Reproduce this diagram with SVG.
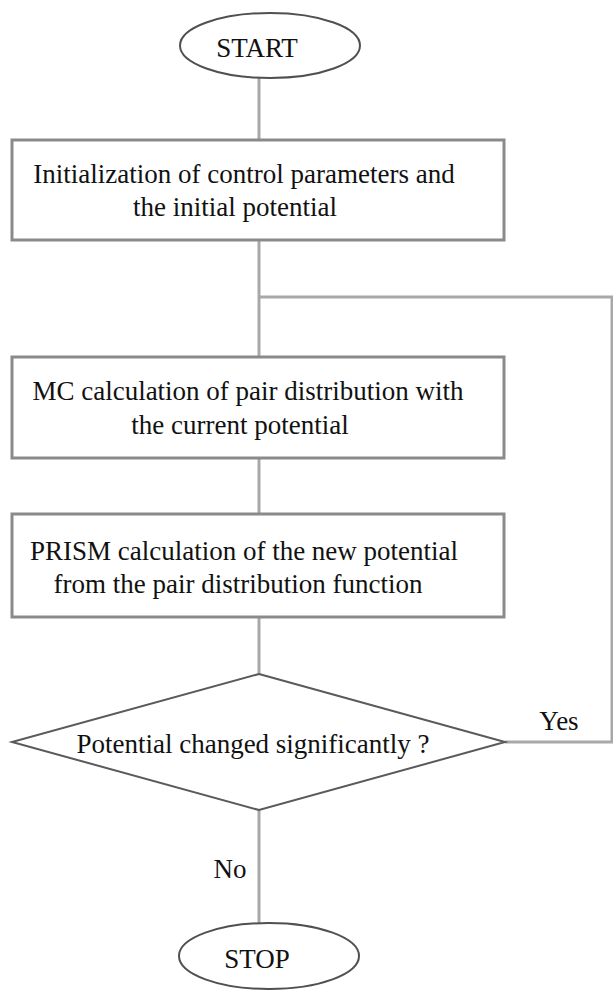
<svg xmlns="http://www.w3.org/2000/svg" width="613" height="990" viewBox="0 0 613 990">
  <style>
    .box { fill: #ffffff; stroke: #8a8a8a; stroke-width: 3; }
    .term { fill: #ffffff; stroke: #505050; stroke-width: 2; }
    .dec { fill: #ffffff; stroke: #5a5a5a; stroke-width: 2; }
    .conn { fill: none; stroke: #a8a8a8; stroke-width: 3; }
    .label { font-family: "Liberation Serif", "DejaVu Serif", serif; font-size: 27px; fill: #111111; text-anchor: middle; }
  </style>
  <rect width="613" height="990" fill="#ffffff"/>

  <g id="connectors">
    <line class="conn" x1="259" y1="78" x2="259" y2="140"/>
    <line class="conn" x1="259" y1="240" x2="259" y2="357"/>
    <polyline class="conn" points="259,297 612,297 612,742 505,742"/>
    <line class="conn" x1="259" y1="458" x2="259" y2="514"/>
    <line class="conn" x1="259" y1="617" x2="259" y2="674"/>
    <line class="conn" x1="259" y1="810" x2="259" y2="923"/>
    <text class="label" x="559" y="730">Yes</text>
    <text class="label" x="230" y="878">No</text>
  </g>

  <g id="start">
    <ellipse class="term" cx="270" cy="45.5" rx="90" ry="32.5"/>
    <text class="label" x="257" y="57">START</text>
  </g>

  <g id="init">
    <rect class="box" x="12" y="140" width="492" height="100"/>
    <text class="label" x="244" y="183">Initialization of control parameters and</text>
    <text class="label" x="235" y="216">the initial potential</text>
  </g>

  <g id="mc">
    <rect class="box" x="12" y="357" width="492" height="101"/>
    <text class="label" x="248" y="400">MC calculation of pair distribution with</text>
    <text class="label" x="240" y="434">the current potential</text>
  </g>

  <g id="prism">
    <rect class="box" x="12" y="514" width="492" height="103"/>
    <text class="label" x="244" y="560">PRISM calculation of the new potential</text>
    <text class="label" x="238" y="593">from the pair distribution function</text>
  </g>

  <g id="decision">
    <polygon class="dec" points="259,674 505,742 259,810 12,742"/>
    <text class="label" x="253" y="753">Potential changed significantly ?</text>
  </g>

  <g id="stop">
    <ellipse class="term" cx="269" cy="956" rx="90" ry="33"/>
    <text class="label" x="257" y="968">STOP</text>
  </g>
</svg>
